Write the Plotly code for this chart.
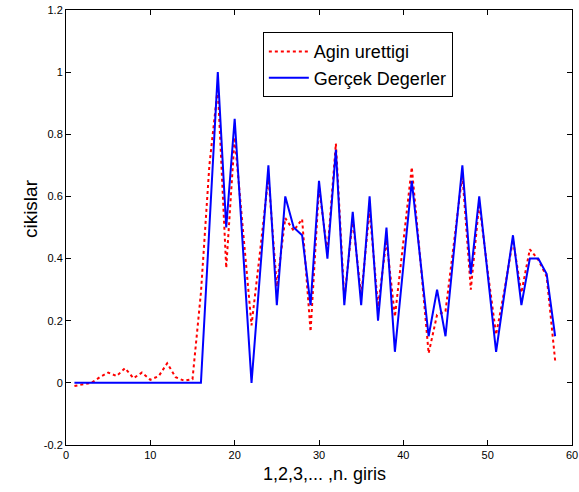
import plotly.graph_objects as go

x_idx = list(range(1, 59))

gercek = [0, 0, 0, 0, 0, 0, 0, 0, 0, 0,
          0, 0, 0, 0, 0, 0, 0.5, 1.0, 0.5, 0.85,
          0.425, 0, 0.35, 0.7, 0.25, 0.6, 0.5, 0.475, 0.25, 0.65,
          0.4, 0.75, 0.25, 0.55, 0.25, 0.6, 0.2, 0.5, 0.1, 0.375,
          0.65, 0.4, 0.15, 0.3, 0.15, 0.425, 0.7, 0.35, 0.6, 0.35,
          0.1, 0.29, 0.475, 0.25, 0.4, 0.4, 0.35, 0.15]

agin = [-0.01, -0.005, 0.0, 0.018, 0.033, 0.022, 0.047, 0.015, 0.033, 0.01,
        0.022, 0.063, 0.018, 0.007, 0.012, 0.29, 0.7, 0.95, 0.37, 0.79,
        0.49, 0.185, 0.42, 0.665, 0.31, 0.53, 0.49, 0.527, 0.165, 0.63,
        0.42, 0.77, 0.27, 0.525, 0.28, 0.557, 0.245, 0.46, 0.213, 0.45,
        0.694, 0.4, 0.095, 0.219, 0.23, 0.45, 0.67, 0.3, 0.578, 0.36,
        0.155, 0.3, 0.46, 0.29, 0.43, 0.396, 0.342, 0.072]

x_ticks = [0, 10, 20, 30, 40, 50, 60]
y_ticks = [-0.2, 0, 0.2, 0.4, 0.6, 0.8, 1, 1.2]
y_tick_text = ["-0.2", "0", "0.2", "0.4", "0.6", "0.8", "1", "1.2"]

FONT = "Liberation Sans, Arial, Helvetica"

fig = go.Figure()
fig.add_trace(go.Scatter(x=x_idx, y=agin, mode="lines", name="Agin urettigi",
                         line=dict(color="#ff0000", width=2, dash="dot")))
fig.add_trace(go.Scatter(x=x_idx, y=gercek, mode="lines", name="Gerçek Degerler",
                         line=dict(color="#0000ff", width=2)))

axis_common = dict(showgrid=False, zeroline=False, showline=True, linecolor="black",
                   linewidth=1, mirror="ticks", ticks="inside", ticklen=5,
                   tickcolor="black", automargin=False,
                   tickfont=dict(family=FONT, size=11, color="black"))

fig.update_layout(
    width=579, height=492,
    margin=dict(l=66, r=7, t=10, b=47, autoexpand=False),
    paper_bgcolor="white", plot_bgcolor="white",
    font=dict(family=FONT, color="black"),
    xaxis=dict(range=[0, 60], tickvals=x_ticks, ticktext=[str(v) for v in x_ticks],
               **axis_common),
    yaxis=dict(range=[-0.2, 1.2], tickvals=y_ticks, ticktext=y_tick_text,
               **axis_common),
    legend=dict(x=0.389, y=0.949, xanchor="left", yanchor="top",
                bgcolor="white", bordercolor="black", borderwidth=1,
                font=dict(size=18, family=FONT),
                tracegroupgap=0, itemwidth=40),
    showlegend=True,
    annotations=[
        dict(text="1,2,3,... ,n. giris", xref="paper", yref="paper",
             x=0.51, y=-0.067, xanchor="center", yanchor="middle",
             showarrow=False, font=dict(size=18, family=FONT)),
        dict(text="cikislar", xref="paper", yref="paper",
             x=-0.071, y=0.5425, xanchor="center", yanchor="middle",
             textangle=-90, showarrow=False, font=dict(size=19, family=FONT)),
    ],
)

fig.write_html("out.html", config={"displayModeBar": False},
               post_script="document.body.style.margin='0';")
